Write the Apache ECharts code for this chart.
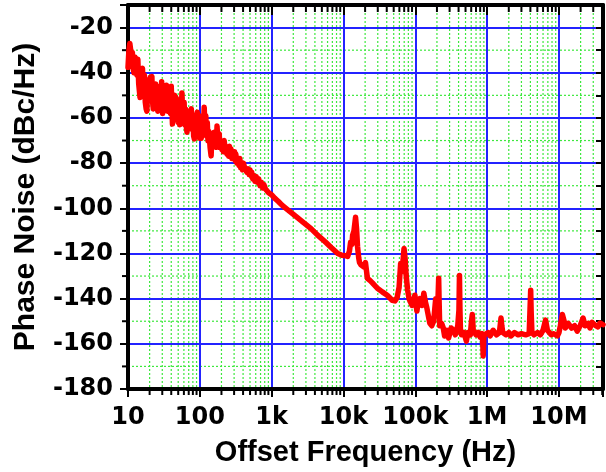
<!DOCTYPE html>
<html>
<head>
<meta charset="utf-8">
<script src="https://cdn.jsdelivr.net/npm/echarts@6/dist/echarts.min.js"></script>
<style>
html,body{margin:0;padding:0;background:#fff;}
#chart{width:606px;height:472px;}
</style>
</head>
<body>
<div id="chart"></div>
<script>
// ---- data: [offset frequency (Hz), phase noise (dBc/Hz)] ----
const traceLow = [
  [10,-37.6],[10.3,-30],[10.6,-27],[10.9,-30],[11.2,-36],[11.5,-31],[11.8,-38],[12.1,-40],[12.5,-33],[12.9,-38],
  [13.3,-41],[13.7,-34],[14.1,-45],[14.4,-48],[14.7,-51],[15.1,-43],[15.5,-39],[15.9,-38],[16.4,-48],[16.9,-41],
  [17.4,-53],[17.9,-56],[18.3,-57],[18.8,-47],[19.3,-43],[19.9,-52],[20.5,-42],[21.0,-50],[21.5,-41.6],[22.0,-53],
  [22.5,-56],[23.1,-46],[23.7,-54],[24.3,-45],[24.9,-44.5],[25.5,-55],[26.0,-57],[26.6,-48],[27.3,-55],[28.0,-46],
  [28.7,-53],[29.4,-44],[29.9,-53],[30.4,-58],[31.1,-49],[31.8,-56],[32.6,-46],[33.4,-55],[34.2,-45.5],[34.9,-55],
  [35.6,-57],[36.4,-48],[37.3,-56],[38.2,-47],[39.1,-58],[40.0,-46],[40.8,-55],[41.6,-62.7],[42.5,-52],[43.5,-60],
  [44.5,-50],[45.6,-59],[46.7,-51],[47.8,-61],[49.0,-52],[50.2,-62],[51.4,-54],[52.6,-63],[53.8,-52],[55.0,-60],
  [56.3,-49],[57.6,-58],[59.0,-62],[60.4,-53],[61.8,-63],[63.3,-56],[64.8,-64],[66.3,-66.3],[67.8,-58],[69.4,-65],
  [71.0,-57],[72.7,-64],[74.4,-57],[76.1,-56],[78.0,-65],[80.0,-59],[82.0,-68],[84.0,-69.3],[86.0,-61],[88.0,-68],
  [90.0,-59],[92.1,-57.5],[94.5,-66],[97.0,-59],[99.5,-69],[102,-61],[104.5,-69],[107,-62],[109.5,-59],[112,-66],
  [115,-55.3],[118,-65],[121,-59],[124,-68],[127,-62],[130,-70],[134,-66],[139,-73],[143.6,-76.8],[147,-68],
  [152,-73],[158,-66.3],[162,-72],[166,-67],[170,-73],[173.6,-63.6],[178,-70],[182,-73],[186,-67],[190,-72],
  [197,-70.7],[203,-74],[208,-71],[213,-75],[218,-70],[224,-73],[231,-72.4],[238,-76],[245,-73],[252,-77],
  [258,-72.5],[265,-75],[271,-73.7],[280,-78],[290,-75],[298,-78],[305,-75],[312,-79],[317,-76],[328,-80],
  [340,-78],[350,-81],[360,-78],[370,-82],[380,-80],[392,-83],[405,-80],[420,-82],[436,-81.2],[452,-84],
  [470,-82.5],[485,-85],[500,-83],[515,-85.5],[527,-84],[545,-87],[565,-85.5],[585,-88],[610,-86],[632,-88.5],
  [658,-87],[690,-90],[720,-88.5],[750,-91],[780,-89.5],[821,-91.5],[860,-91],[900,-93],[950,-92.5]
];
const traceMid = [
  [994,-94],[1050,-94.5],[1100,-95.5],[1170,-95.5],[1241,-97],[1310,-97.5],[1380,-98.5],[1460,-99],[1549,-99.8],[1650,-100.5],
  [1800,-101.5],[2196,-103.7],[2700,-106],[3533,-109],[4400,-112],[5508,-114.7],[6800,-117.5],[8321,-120],[9500,-120.8],[10700,-121],
  [11430,-121.3],[12100,-119],[12570,-115],[13100,-116],[13390,-112],[14000,-110],[14720,-104],[15200,-109],[15690,-117],[16300,-122],
  [16720,-124],[17500,-125],[18390,-125],[19300,-126],[20220,-124],[21540,-131],[23500,-132],[25250,-133],[29590,-135.4],[34670,-137],
  [40620,-138.5],[47610,-140.7],[52000,-141],[55790,-139.5],[59440,-135],[62500,-124.4],[65380,-128],[69660,-117.8],[72000,-122],[74500,-129.7],
  [78000,-136],[81630,-140],[89780,-143],[98740,-138.5]
];
const traceHigh = [
  [105200,-145.5],[110000,-141],[115700,-140],[124000,-143],[131400,-137.6],[137000,-141],[144500,-144],[158900,-150.8],[169300,-152],[180000,-150],
  [192100,-140],[200000,-146],[207000,-140],[211400,-131],[214000,-140],[218300,-152],[232500,-151],[245000,-153],[255700,-156.5],[275000,-154],
  [290300,-157.4],[315000,-153],[340200,-154],[360000,-156],[390000,-152],[405000,-145],[411600,-129.7],[418000,-145],[425000,-154],[438500,-156],
  [475000,-155],[513700,-158.8],[540000,-155],[583300,-156],[605000,-150],[621500,-147],[640000,-154],[700000,-156],[751600,-155],[800000,-157],
  [850000,-155.5],[870000,-160],[881000,-165.4],[895000,-158],[909300,-156],[968700,-155.5],[1032000,-155],[1100000,-156.5],[1209000,-154],[1350000,-156],
  [1480000,-155],[1530000,-151],[1559000,-148.6],[1600000,-152],[1650000,-155],[1715000,-154.4],[1827000,-156],[2000000,-155],[2141000,-156.5],[2400000,-155],
  [2700000,-156],[3000000,-155.5],[3445000,-156],[3850000,-155.5],[3950000,-145],[4037000,-136.3],[4100000,-146],[4200000,-155],[4500000,-156],[5041000,-155],
  [5500000,-156],[6000000,-154],[6497000,-149.5],[6900000,-154],[7800000,-156],[8375000,-155.5],[9506000,-156.5],[10000000,-155],[10450000,-152],[11140000,-147],
  [11800000,-150],[12250000,-153],[13500000,-151],[15000000,-153],[16500000,-152],[17920000,-154.4],[19710000,-152],[21680000,-148.6],[23100000,-152],[25410000,-151],
  [27000000,-153],[28850000,-150.5],[31730000,-151.7],[34890000,-152.5],[37170000,-150.8],[41000000,-151.5]
];
const xTickValues = [10, 100, 1000, 10000, 100000, 1000000, 10000000];
const xTickLabels = ['10', '100', '1k', '10k', '100k', '1M', '10M'];
const yMinorValues = [-170, -150, -130, -110, -90, -70, -50, -30];
const xMinorMultipliers = [2, 3, 4, 5, 6, 7, 8, 9];

const X_MIN = 10, X_MAX = 4.1e7, Y_MIN = -180, Y_MAX = -10;

// minor grid positions on the log axis (2..9 of each decade)
const xMinorValues = [];
xTickValues.forEach(d => xMinorMultipliers.forEach(m => { if (d * m < X_MAX) xMinorValues.push(d * m); }));

const lineData = traceLow.concat(traceMid, traceHigh);

const FONT = 'Liberation Sans, Arial, Helvetica, sans-serif';
const TICKFONT = 'DejaVu Sans, Liberation Sans, sans-serif';
const BLUE = '#2323ff';
const GREEN = '#3ee83e';

function xLabel(v) {
  for (let i = 0; i < xTickValues.length; i++) {
    if (Math.abs(Math.log10(v / xTickValues[i])) < 1e-6) return xTickLabels[i];
  }
  return '';
}

const chart = echarts.init(document.getElementById('chart'), null, {renderer: 'canvas'});
chart.setOption({
  animation: false,
  backgroundColor: '#ffffff',
  grid: {left: 128, right: -2, top: 5, bottom: 80, containLabel: false},
  xAxis: [{
    type: 'log', logBase: 10, min: X_MIN, max: X_MAX, splitNumber: 8,
    position: 'bottom',
    name: 'Offset Frequency (Hz)', nameLocation: 'middle', nameGap: 49,
    nameTextStyle: {fontFamily: FONT, fontWeight: 'bold', fontSize: 29, color: '#000'},
    axisLine: {show: true, onZero: false, lineStyle: {color: '#000', width: 4}},
    axisTick: {show: true, inside: false, length: 8, lineStyle: {color: '#000', width: 2}},
    axisLabel: {show: true, margin: 17, formatter: xLabel, fontFamily: TICKFONT, fontWeight: 'bold', fontSize: 24, color: '#000'},
    splitLine: {show: true, lineStyle: {color: BLUE, width: 2}},
    minorTick: {show: false}, minorSplitLine: {show: false}
  }, {
    type: 'log', logBase: 10, min: X_MIN, max: X_MAX, splitNumber: 8,
    position: 'top',
    axisLine: {show: true, onZero: false, lineStyle: {color: '#000', width: 4}},
    axisTick: {show: true, inside: true, length: 10, lineStyle: {color: '#000', width: 2}},
    axisLabel: {show: false},
    splitLine: {show: false}
  }],
  yAxis: [{
    type: 'value', min: Y_MIN, max: Y_MAX, interval: 20,
    position: 'left',
    name: 'Phase Noise (dBc/Hz)', nameLocation: 'middle', nameGap: 87, nameRotate: 90,
    nameTextStyle: {fontFamily: FONT, fontWeight: 'bold', fontSize: 30, color: '#000'},
    axisLine: {show: true, onZero: false, lineStyle: {color: '#000', width: 4}},
    axisTick: {show: true, inside: false, length: 8, lineStyle: {color: '#000', width: 2}},
    axisLabel: {show: true, margin: 15, fontFamily: TICKFONT, fontWeight: 'bold', fontSize: 24, color: '#000',
      formatter: v => (v % 20 === 0 ? String(v) : '')},
    splitLine: {show: true, lineStyle: {color: BLUE, width: 2}}
  }, {
    type: 'value', min: Y_MIN, max: Y_MAX, interval: 10,
    position: 'right',
    axisLine: {show: true, onZero: false, lineStyle: {color: '#000', width: 4}},
    axisTick: {show: true, inside: true, length: 7, lineStyle: {color: '#000', width: 2}},
    axisLabel: {show: false},
    splitLine: {show: false}
  }],
  series: [{
    type: 'custom', name: 'xMinorGrid', xAxisIndex: 0, yAxisIndex: 0, z: -1, silent: true,
    data: xMinorValues.map(v => [v, Y_MIN]),
    renderItem: function (params, api) {
      const f = api.value(0);
      const t = api.coord([f, Y_MAX]);
      const b = api.coord([f, Y_MIN]);
      return {type: 'group', children: [
        {type: 'line', shape: {x1: t[0], y1: t[1], x2: b[0], y2: b[1]}, style: {stroke: GREEN, lineWidth: 1.2, lineDash: [2, 2]}},
        {type: 'line', shape: {x1: t[0], y1: t[1], x2: t[0], y2: t[1] + 7}, style: {stroke: '#000', lineWidth: 2}},
        {type: 'line', shape: {x1: b[0], y1: b[1], x2: b[0], y2: b[1] + 6}, style: {stroke: '#000', lineWidth: 2}}
      ]};
    }
  }, {
    type: 'custom', name: 'yMinorGrid', xAxisIndex: 0, yAxisIndex: 0, z: -1, silent: true,
    data: yMinorValues.map(v => [X_MIN, v]),
    renderItem: function (params, api) {
      const v = api.value(1);
      const l = api.coord([X_MIN, v]);
      const r = api.coord([X_MAX, v]);
      return {type: 'group', children: [
        {type: 'line', shape: {x1: l[0], y1: l[1], x2: r[0], y2: r[1]}, style: {stroke: GREEN, lineWidth: 1.2, lineDash: [2, 2]}},
        {type: 'line', shape: {x1: l[0] - 6, y1: l[1], x2: l[0], y2: l[1]}, style: {stroke: '#000', lineWidth: 2}}
      ]};
    }
  }, {
    type: 'line', name: 'Phase noise', xAxisIndex: 0, yAxisIndex: 0, z: 5,
    data: lineData, showSymbol: false, symbol: 'none', clip: true,
    lineStyle: {color: '#ff0000', width: 5.5, join: 'round', cap: 'round'}
  }]
});
</script>
</body>
</html>
